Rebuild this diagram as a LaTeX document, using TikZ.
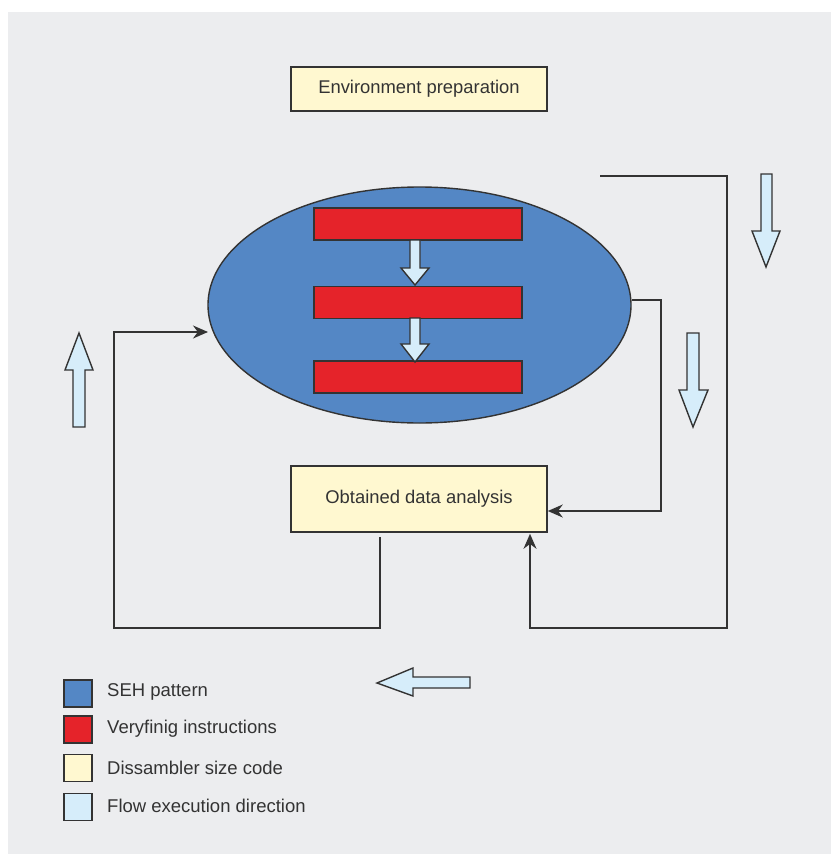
\documentclass[tikz,border=0pt]{standalone}
\usepackage{fontspec}
\setmainfont{Liberation Sans}
\usetikzlibrary{shapes.geometric,arrows.meta,calc}
\definecolor{panel}{HTML}{ECEDEF}
\definecolor{ink}{HTML}{333333}
\definecolor{cream}{HTML}{FFF8D0}
\definecolor{sehblue}{HTML}{5487C5}
\definecolor{vred}{HTML}{E5232A}
\definecolor{flowblue}{HTML}{D6EDFA}
\tikzset{
  box/.style={draw=ink, line width=1.6pt, fill=cream, minimum width=256pt, text=ink, font=\fontsize{18.4}{20}\selectfont, inner sep=0pt},
  redbar/.style={draw=ink, line width=1.4pt, fill=vred, minimum width=208pt, minimum height=32pt, inner sep=0pt},
  conn/.style={draw=ink, line width=1.8pt},
  tip/.style={-{Stealth[length=15pt,width=13pt]}},
  flow/.style={draw=ink, line width=1.4pt, fill=flowblue, line join=miter},
  legsq/.style={draw=ink, line width=1.4pt, minimum width=28pt, minimum height=27pt, inner sep=0pt},
  legtxt/.style={anchor=west, text=ink, font=\fontsize{18.5}{20}\selectfont, inner sep=0pt}
}
\begin{document}
\begin{tikzpicture}[x=1pt,y=-1pt]
\useasboundingbox (0,0) rectangle (831,854);
\fill[white] (0,0) rectangle (831,854);
\fill[panel] (8,12) rectangle (831,854);

% nodes
\node[box, minimum height=44pt] (env) at (419,89) {Environment preparation};
\node[draw=ink, line width=1.4pt, fill=sehblue, ellipse, minimum width=423pt, minimum height=236pt, inner sep=0pt] (ell) at (419.5,305) {};
\node[redbar] (r1) at (418,224) {};
\node[redbar] (r2) at (418,302.5) {};
\node[redbar] (r3) at (418,377) {};
\node[box, minimum height=66pt] (obt) at (419,499) {Obtained data analysis};

% small flow arrows inside the ellipse
\draw[flow] (410,240)--(420,240)--(420,268)--(429,268)--(415,285)--(401,268)--(410,268)--cycle;
\draw[flow] (410,318)--(420,318)--(420,344)--(429,344)--(415,362)--(401,344)--(410,344)--cycle;

% connectors
\coordinate (start) at (600,176);
\coordinate (ein) at (208,332);
\draw[conn, tip] (start) -- ++(127,0) -- ++(0,452) -| ([xshift=111pt,yshift=-1pt]obt.south);
\draw[conn, tip] ([yshift=5pt]ell.east) -- ++(29,0) |- ([yshift=-12pt]obt.east);
\draw[conn, tip] ([xshift=-39pt,yshift=-4pt]obt.south) -- ++(0,91) -| (114,332) -- (ein);

% big flow arrows
\draw[flow] (761,174)--(772,174)--(772,231)--(780,231)--(766,267)--(752,231)--(761,231)--cycle;
\draw[flow] (687,333)--(699,333)--(699,390)--(708,390)--(693,427)--(679,390)--(687,390)--cycle;
\draw[flow] (73,427)--(85,427)--(85,370)--(93,370)--(79,333)--(65,370)--(73,370)--cycle;
\draw[flow] (470,677)--(470,688)--(413,688)--(413,696)--(377,683)--(413,668)--(413,677)--cycle;

% legend
\node[legsq, fill=sehblue] (l1) at (78,693.5) {};
\node[legsq, fill=vred] (l2) at (78,729.5) {};
\node[legsq, fill=cream] (l3) at (78,768) {};
\node[legsq, fill=flowblue] (l4) at (78,807) {};
\node[legtxt] (t1) at (107,692) {SEH pattern};
\node[legtxt] (t2) at (107,729) {Veryfinig instructions};
\node[legtxt] (t3) at (107,768) {Dissambler size code};
\node[legtxt] (t4) at (107,806) {Flow execution direction};
\end{tikzpicture}
\end{document}
